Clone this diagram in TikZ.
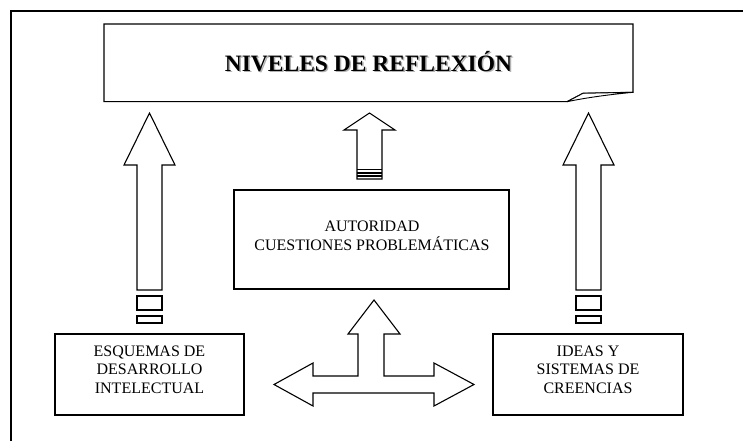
\documentclass[tikz,border=0pt]{standalone}
\usepackage{fontspec}
\setmainfont{Liberation Serif}
\begin{document}
\begin{tikzpicture}[x=1pt,y=-1pt,
  ln/.style={draw=black,line width=1.1pt,line join=miter,fill=white},
  boxnode/.style={draw=black,line width=1.1pt,fill=white,inner sep=0pt},
  txt/.style={align=center,inner sep=0pt,font=\fontsize{16}{18.5}\selectfont},
  ttl/.style={inner sep=0pt,font=\fontsize{23.5}{28}\selectfont\bfseries}]
\useasboundingbox[fill=white] (0,0) rectangle (743,441);
% outer frame
\coordinate (f1) at (11,441);
\coordinate (f2) at (11,11);
\coordinate (f3) at (743,11);
\draw[line width=1.3pt] (f1) -- (f2) -- (f3);
% banner
\draw[ln] (104,24) -- (633,24) -- (633,92.3) -- (583,93.3) -- (567,101.7) -- (104,101.7) -- cycle;
\draw[ln,line width=0.9pt] (567,101.7) -- (583,93.3) -- (633,92.3) .. controls (605,95) and (585,98) .. (567,101.7);
\node[ttl,text=gray!60] at (370,63) {NIVELES DE REFLEXIÓN};
\node[ttl] (title) at (368.5,61.5) {NIVELES DE REFLEXIÓN};
% left up arrow
\draw[ln] (137,290) -- (137,165) -- (124,165) -- (149.5,113) -- (175,165) -- (162,165) -- (162,290) -- cycle;
\draw[ln] (137,296) rectangle (162,310);
\draw[ln] (137,316) rectangle (162,323);
% right up arrow
\draw[ln] (576,290) -- (576,165) -- (563,165) -- (588.5,113) -- (614,165) -- (601,165) -- (601,290) -- cycle;
\draw[ln] (576,296) rectangle (601,310);
\draw[ln] (576,316) rectangle (601,323);
% centre up arrow
\draw[ln] (357,179) -- (357,130) -- (344,130) -- (369.5,113) -- (395,130) -- (382,130) -- (382,179) -- cycle;
\draw[line width=1.6pt] (357,169.5) -- (382,169.5);
\draw[line width=1.6pt] (357,172.8) -- (382,172.8);
\draw[line width=1.6pt] (357,176) -- (382,176);
% centre box
\node[boxnode,minimum width=275pt,minimum height=99pt] (auth) at (371.5,239.5) {};
\node[txt] (authtxt) at (372,236) {AUTORIDAD\\CUESTIONES PROBLEMÁTICAS};
% T arrow
\draw[ln] (358,334) -- (348,334) -- (374,300) -- (400,334) -- (384,334) -- (384,376) -- (434,376) -- (434,363) -- (474,384.5) -- (434,406) -- (434,393) -- (313,393) -- (313,406) -- (274,384.5) -- (313,363) -- (313,376) -- (358,376) -- cycle;
% bottom boxes
\node[boxnode,minimum width=189pt,minimum height=81pt] (esq) at (149.5,374.5) {};
\node[txt] (esqtxt) at (149.5,369.5) {ESQUEMAS DE\\DESARROLLO\\INTELECTUAL};
\node[boxnode,minimum width=190pt,minimum height=81pt] (ideas) at (588,374.5) {};
\node[txt] (ideastxt) at (588,369.5) {IDEAS Y\\SISTEMAS DE\\CREENCIAS};
\end{tikzpicture}
\end{document}
